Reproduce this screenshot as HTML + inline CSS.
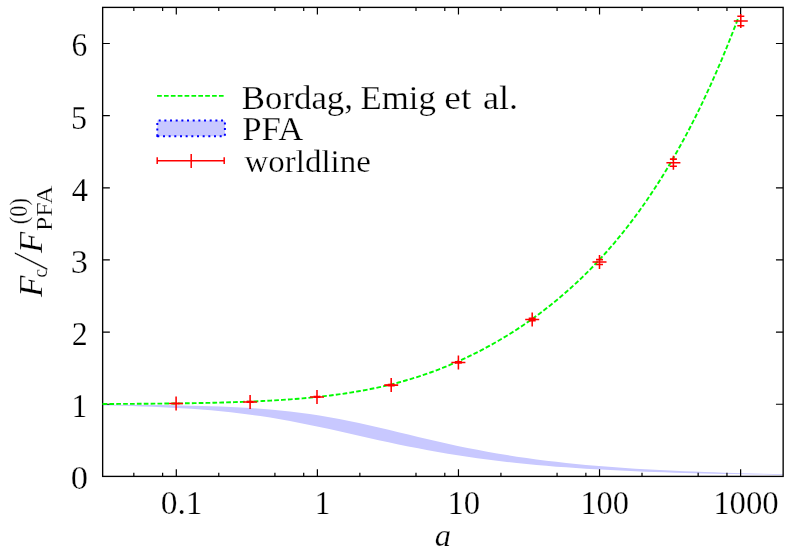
<!DOCTYPE html>
<html><head><meta charset="utf-8"><title>Casimir force: cylinder-plate</title>
<style>
html,body{margin:0;padding:0;background:#fff}
svg{display:block;will-change:transform}
text{font-family:"Liberation Serif",serif;fill:#000;stroke:#fff;stroke-width:0.25px}
</style></head>
<body>
<svg width="789" height="554" viewBox="0 0 789 554">
<rect width="789" height="554" fill="#fff"/>
<polygon points="102.65,404.58 112.4,404.63 122.26,404.7 132.12,404.78 141.98,404.88 151.85,404.99 161.71,405.12 171.57,405.27 181.44,405.45 191.3,405.67 201.16,405.92 211.03,406.22 220.89,406.57 230.75,406.99 240.62,407.48 250.48,408.06 260.34,408.73 270.21,409.52 280.07,410.43 289.93,411.47 299.8,412.67 309.66,414.02 319.52,415.52 329.38,417.19 339.25,419.01 349.11,420.97 358.97,423.05 368.84,425.25 378.7,427.52 388.56,429.86 398.43,432.23 408.29,434.6 418.15,436.96 428.02,439.29 437.88,441.56 447.74,443.77 457.61,445.89 467.47,447.93 477.33,449.87 487.19,451.71 497.06,453.45 506.92,455.09 516.78,456.63 526.65,458.07 536.51,459.42 546.37,460.68 556.24,461.85 566.1,462.94 575.96,463.96 585.83,464.9 595.69,465.77 605.55,466.58 615.42,467.33 625.28,468.02 635.14,468.66 645.01,469.26 654.87,469.81 664.73,470.31 674.59,470.78 684.46,471.21 694.32,471.61 704.18,471.98 714.05,472.32 723.91,472.64 733.77,472.93 743.64,473.2 753.5,473.44 763.36,473.67 773.23,473.88 783.15,474.08 783.15,474.85 773.23,474.72 763.36,474.58 753.5,474.43 743.64,474.26 733.77,474.08 723.91,473.89 714.05,473.68 704.18,473.45 694.32,473.21 684.46,472.94 674.59,472.65 664.73,472.34 654.87,472 645.01,471.63 635.14,471.23 625.28,470.8 615.42,470.33 605.55,469.83 595.69,469.29 585.83,468.7 575.96,468.06 566.1,467.37 556.24,466.63 546.37,465.82 536.51,464.96 526.65,464.03 516.78,463.03 506.92,461.95 497.06,460.79 487.19,459.55 477.33,458.23 467.47,456.81 457.61,455.31 447.74,453.71 437.88,452.02 428.02,450.24 418.15,448.37 408.29,446.41 398.43,444.38 388.56,442.29 378.7,440.13 368.84,437.94 358.97,435.72 349.11,433.49 339.25,431.27 329.38,429.09 319.52,426.95 309.66,424.88 299.8,422.9 289.93,421.02 280.07,419.26 270.21,417.61 260.34,416.09 250.48,414.7 240.62,413.43 230.75,412.29 220.89,411.26 211.03,410.35 201.16,409.54 191.3,408.83 181.44,408.2 171.57,407.66 161.71,407.18 151.85,406.77 141.98,406.41 132.12,406.1 122.26,405.84 112.4,405.61 102.65,405.41" fill="#c8c8ff"/>
<rect x="102.65" y="7.4" width="680.5" height="469" fill="none" stroke="#000" stroke-width="1.35"/>
<path d="M133.83 476.4 v-3.6 M133.83 7.4 v3.6 M162.63 476.4 v-3.6 M162.63 7.4 v3.6 M176.3 476.4 v-7.2 M176.3 7.4 v7.2 M218.77 476.4 v-3.6 M218.77 7.4 v3.6 M274.91 476.4 v-3.6 M274.91 7.4 v3.6 M303.71 476.4 v-3.6 M303.71 7.4 v3.6 M317.38 476.4 v-7.2 M317.38 7.4 v7.2 M359.85 476.4 v-3.6 M359.85 7.4 v3.6 M415.99 476.4 v-3.6 M415.99 7.4 v3.6 M444.79 476.4 v-3.6 M444.79 7.4 v3.6 M458.46 476.4 v-7.2 M458.46 7.4 v7.2 M500.93 476.4 v-3.6 M500.93 7.4 v3.6 M557.07 476.4 v-3.6 M557.07 7.4 v3.6 M585.87 476.4 v-3.6 M585.87 7.4 v3.6 M599.54 476.4 v-7.2 M599.54 7.4 v7.2 M642.01 476.4 v-3.6 M642.01 7.4 v3.6 M698.15 476.4 v-3.6 M698.15 7.4 v3.6 M726.95 476.4 v-3.6 M726.95 7.4 v3.6 M740.62 476.4 v-7.2 M740.62 7.4 v7.2 M102.65 404.25 h7.2 M783.15 404.25 h-7.2 M102.65 332.1 h7.2 M783.15 332.1 h-7.2 M102.65 259.95 h7.2 M783.15 259.95 h-7.2 M102.65 187.8 h7.2 M783.15 187.8 h-7.2 M102.65 115.65 h7.2 M783.15 115.65 h-7.2 M102.65 43.5 h7.2 M783.15 43.5 h-7.2" stroke="#000" stroke-width="1.2" fill="none"/>
<polyline points="102.53,404 106.53,403.98 110.53,403.96 114.53,403.94 118.53,403.92 122.53,403.9 126.53,403.88 130.53,403.85 134.53,403.83 138.53,403.8 142.53,403.77 146.53,403.74 150.52,403.7 154.52,403.67 158.52,403.63 162.52,403.59 166.52,403.54 170.52,403.5 174.52,403.45 178.52,403.39 182.52,403.34 186.52,403.28 190.52,403.21 194.52,403.14 198.52,403.07 202.52,402.99 206.52,402.91 210.52,402.82 214.51,402.73 218.51,402.63 222.51,402.52 226.51,402.41 230.51,402.29 234.51,402.17 238.51,402.03 242.51,401.89 246.51,401.74 250.51,401.58 254.51,401.4 258.51,401.22 262.51,401.03 266.51,400.83 270.51,400.61 274.51,400.39 278.5,400.14 282.5,399.89 286.5,399.62 290.5,399.33 294.5,399.03 298.5,398.71 302.5,398.37 306.5,398.02 310.5,397.64 314.5,397.25 318.5,396.83 322.5,396.39 326.5,395.93 330.5,395.45 334.5,394.94 338.5,394.4 342.49,393.84 346.49,393.24 350.49,392.62 354.49,391.97 358.49,391.29 362.49,390.58 366.49,389.83 370.49,389.04 374.49,388.23 378.49,387.37 382.49,386.48 386.49,385.55 390.49,384.58 394.49,383.56 398.49,382.51 402.49,381.42 406.48,380.28 410.48,379.09 414.48,377.87 418.48,376.59 422.48,375.27 426.48,373.91 430.48,372.49 434.48,371.03 438.48,369.52 442.48,367.96 446.48,366.35 450.48,364.69 454.48,362.99 458.48,361.23 462.48,359.42 466.48,357.56 470.47,355.64 474.47,353.68 478.47,351.66 482.47,349.58 486.47,347.46 490.47,345.27 494.47,343.04 498.47,340.74 502.47,338.39 506.47,335.98 510.47,333.5 514.47,330.97 518.47,328.38 522.47,325.72 526.47,323 530.47,320.21 534.47,317.35 538.46,314.42 542.46,311.42 546.46,308.35 550.46,305.2 554.46,301.98 558.46,298.68 562.46,295.29 566.46,291.82 570.46,288.27 574.46,284.63 578.46,280.89 582.46,277.07 586.46,273.14 590.46,269.12 594.46,265 598.46,260.77 602.45,256.44 606.45,251.99 610.45,247.44 614.45,242.76 618.45,237.97 622.45,233.05 626.45,228 630.45,222.83 634.45,217.52 638.45,212.07 642.45,206.48 646.45,200.74 650.45,194.86 654.45,188.82 658.45,182.62 662.45,176.25 666.44,169.72 670.44,163.02 674.44,156.14 678.44,149.08 682.44,141.83 686.44,134.39 690.44,126.74 694.44,118.9 698.44,110.85 702.44,102.58 706.44,94.09 710.44,85.37 714.44,76.42 718.44,67.23 722.44,57.79 726.44,48.1 730.43,38.14 734.43,27.92 738.43,17.42" fill="none" stroke="#00fa00" stroke-width="1.9" stroke-dasharray="4.7 2.17"/>
<path d="M169.1 403.5 h14 M176.1 396.5 v14 M172.6 403.2 h7 M172.6 403.8 h7 M243.1 401.9 h14 M250.1 394.9 v14 M246.6 401.6 h7 M246.6 402.2 h7 M310 396.9 h14 M317 389.9 v14 M313.5 396.5 h7 M313.5 397.3 h7 M384.2 385.1 h14 M391.2 378.1 v14 M387.7 384.6 h7 M387.7 385.6 h7 M451.4 362.4 h14 M458.4 355.4 v14 M454.9 361.8 h7 M454.9 363 h7 M525.2 319.5 h14 M532.2 312.5 v14 M528.7 318.3 h7 M528.7 320.7 h7 M592.5 262 h14 M599.5 255 v14 M596 259.6 h7 M596 264.4 h7 M666.4 162.7 h14 M673.4 155.7 v14 M669.9 159.1 h7 M669.9 166.3 h7 M733.8 21 h14 M740.8 14 v14 M737.3 16.3 h7 M737.3 25.7 h7" stroke="#ff0000" stroke-width="1.55" fill="none"/>
<g>
<path d="M157.1 95.9H223.8" stroke="#00fa00" stroke-width="1.7" stroke-dasharray="4.7 2.17" fill="none"/>
<path d="M157.3 136.2H224.9V120.6H157.3Z" fill="#c8c8ff" stroke="#0000ff" stroke-width="2" stroke-linejoin="round" stroke-dasharray="2 3.67"/>
<path d="M157.2 160.7H224.2M157.2 157.3v6.8M224.2 157.3v6.8M191.2 154.0v14.1" stroke="#ff0000" stroke-width="1.5" fill="none"/>
</g>
<g>
<text x="71.47" y="56.4" font-size="33" textLength="15.79" lengthAdjust="spacingAndGlyphs">6</text>
<text x="71.12" y="128.55" font-size="33" textLength="16" lengthAdjust="spacingAndGlyphs">5</text>
<text x="71.65" y="200.7" font-size="33" textLength="16.28" lengthAdjust="spacingAndGlyphs">4</text>
<text x="70.78" y="272.85" font-size="33" textLength="17.21" lengthAdjust="spacingAndGlyphs">3</text>
<text x="71.7" y="345" font-size="33" textLength="15.96" lengthAdjust="spacingAndGlyphs">2</text>
<text x="71.47" y="417.15" font-size="33" textLength="15.75" lengthAdjust="spacingAndGlyphs">1</text>
<text x="70.86" y="489.3" font-size="33" textLength="17.28" lengthAdjust="spacingAndGlyphs">0</text>
<text x="160.74" y="514.2" font-size="33" textLength="41.86" lengthAdjust="spacingAndGlyphs">0.1</text>
<text x="314.87" y="514.2" font-size="33" textLength="15.62" lengthAdjust="spacingAndGlyphs">1</text>
<text x="447.42" y="514.2" font-size="33" textLength="32.75" lengthAdjust="spacingAndGlyphs">10</text>
<text x="580.41" y="514.2" font-size="33" textLength="48.63" lengthAdjust="spacingAndGlyphs">100</text>
<text x="713.13" y="514.2" font-size="33" textLength="65.62" lengthAdjust="spacingAndGlyphs">1000</text>
<text x="434.68" y="546.06" font-size="31.03" textLength="16.37" lengthAdjust="spacingAndGlyphs" font-style="italic">a</text>
<text y="108.8" font-size="33.3"><tspan x="241.76" textLength="111.22" lengthAdjust="spacingAndGlyphs">Bordag,</tspan> <tspan x="360.46" textLength="75.42" lengthAdjust="spacingAndGlyphs">Emig</tspan> <tspan x="444.38" textLength="27" lengthAdjust="spacingAndGlyphs">et</tspan> <tspan x="482.96" textLength="35.07" lengthAdjust="spacingAndGlyphs">al.</tspan></text>
<text x="242.26" y="140.4" font-size="33.3" textLength="61.12" lengthAdjust="spacingAndGlyphs">PFA</text>
<text x="244.53" y="172.4" font-size="32" textLength="126.31" lengthAdjust="spacingAndGlyphs">worldline</text>
</g>
<g transform="translate(42.2 0) rotate(-90)">
<text x="-296.93" y="0" font-size="33.3" textLength="21.37" lengthAdjust="spacingAndGlyphs" font-style="italic">F</text>
<text x="-277.67" y="5" font-size="20.5" textLength="8.92" lengthAdjust="spacingAndGlyphs">c</text>
<text transform="translate(-270.07 4.48) skewX(-14.74) scale(1 1.46)" font-size="33.5">/</text>
<text x="-253.01" y="0" font-size="33.3" textLength="21.19" lengthAdjust="spacingAndGlyphs" font-style="italic">F</text>
<text x="-224.2" y="-15.6" font-size="25" textLength="26.12" lengthAdjust="spacingAndGlyphs">(0)</text>
<text x="-230.97" y="9.8" font-size="23.6" textLength="45.31" lengthAdjust="spacingAndGlyphs">PFA</text>
</g>
</svg>
</body></html>
